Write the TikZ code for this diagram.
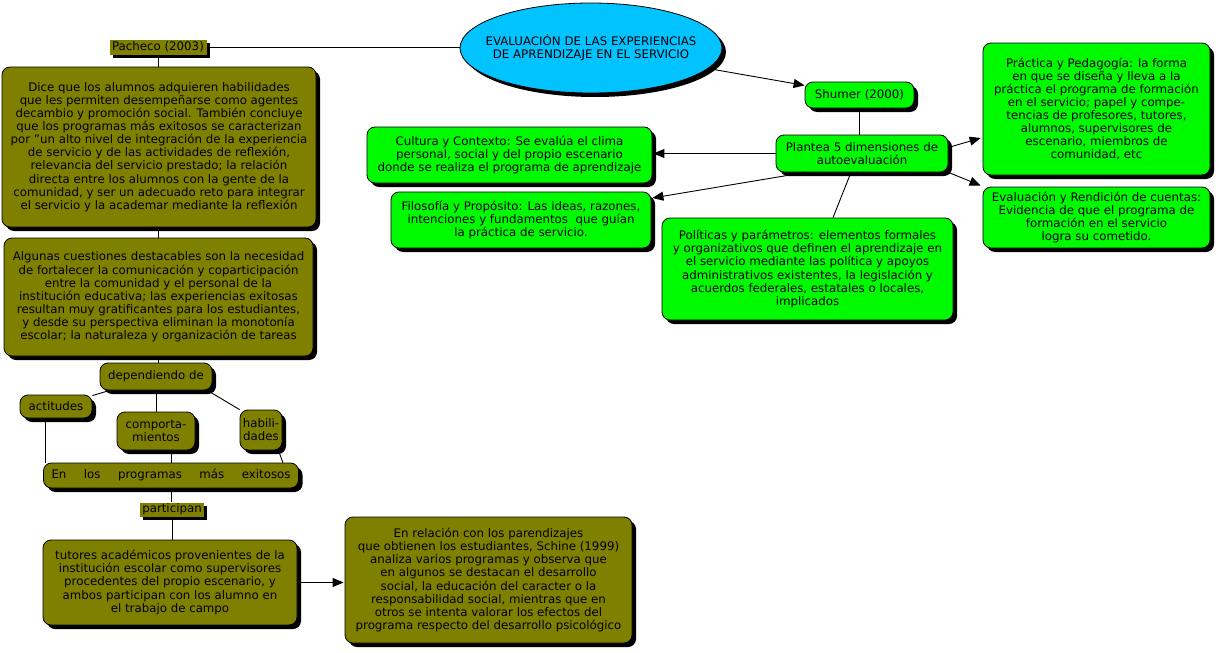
\documentclass[tikz,border=0pt]{standalone}
\usepackage{fontspec}
\setmainfont{DejaVu Sans}
\usetikzlibrary{shapes.geometric,shadows,arrows.meta}
\definecolor{olivebox}{RGB}{128,128,0}
\definecolor{greenbox}{RGB}{0,250,0}
\definecolor{cyanell}{RGB}{0,195,255}
\tikzset{
  txt/.style={font=\fontsize{11.8}{13.1}\selectfont, align=center, text=black, inner sep=0pt},
  shad/.style={drop shadow={shadow xshift=4pt, shadow yshift=-4pt, fill=black, opacity=1}},
  smallshad/.style={drop shadow={shadow xshift=3pt, shadow yshift=-3pt, fill=black, opacity=1}},
  obox/.style={txt, draw=black, line width=0.8pt, fill=olivebox, rounded corners=8pt, shad},
  gbox/.style={txt, draw=black, line width=0.8pt, fill=greenbox, rounded corners=8pt, shad},
  olabel/.style={txt, fill=olivebox, smallshad},
  conn/.style={line width=0.9pt, draw=black},
  arr/.style={conn, -{Triangle[length=11pt,width=9pt]}},
}
\begin{document}
\begin{tikzpicture}[x=1pt,y=-1pt]
\useasboundingbox (0,0) rectangle (1219,653);
\fill[white] (0,0) rectangle (1219,653);

% central ellipse
\node[ellipse, draw=black, line width=0.8pt, fill=cyanell, shad, txt, inner xsep=-13pt, inner ysep=0pt, minimum width=262pt, minimum height=90pt] (ell) at (591,48)
  {EVALUACIÓN DE LAS EXPERIENCIAS\\ DE APRENDIZAJE EN EL SERVICIO};

% left branch
\node[olabel, minimum width=97pt, minimum height=15pt] (pach) at (158,47) {Pacheco (2003)};
\node[obox, minimum width=314pt, minimum height=160pt] (b1) at (159,147)
  {Dice que los alumnos adquieren habilidades\\
   que les permiten desempeñarse como agentes\\
   decambio y promoción social. También concluye\\
   que los programas más exitosos se caracterizan\\
   por "un alto nivel de integración de la experiencia\\
   de servicio y de las actividades de reflexión,\\
   relevancia del servicio prestado; la relación\\
   directa entre los alumnos con la gente de la\\
   comunidad, y ser un adecuado reto para integrar\\
   el servicio y la academar mediante la reflexión};
\node[obox, minimum width=309pt, minimum height=118pt] (b2) at (158.5,297)
  {Algunas cuestiones destacables son la necesidad\\
   de fortalecer la comunicación y coparticipación\\
   entre la comunidad y el personal de la\\
   institución educativa; las experiencias exitosas\\
   resultan muy gratificantes para los estudiantes,\\
   y desde su perspectiva eliminan la monotonía\\
   escolar; la naturaleza y organización de tareas};
\node[obox, minimum width=112pt, minimum height=27pt] (dep) at (156,376.5) {dependiendo de};
\node[obox, minimum width=72pt, minimum height=23pt] (act) at (56,406.5) {actitudes};
\node[obox, minimum width=78pt, minimum height=38pt] (comp) at (156,431) {comporta-\\mientos};
\node[obox, minimum width=42pt, minimum height=40pt] (hab) at (261,430) {habili-\\dades};
\node[obox, minimum width=255pt, minimum height=25pt] (en) at (171,475.5)
  {\makebox[239pt][s]{En los programas más exitosos}};
\node[olabel, minimum width=64pt, minimum height=14pt] (part) at (172,509.5) {participan};
\node[obox, minimum width=254pt, minimum height=85pt] (tut) at (170,582.5)
  {tutores académicos provenientes de la\\
   institución escolar como supervisores\\
   procedentes del propio escenario, y\\
   ambos participan con los alumno en\\
   el trabajo de campo};
\node[obox, minimum width=287pt, minimum height=126pt] (sch) at (488.5,580)
  {En relación con los parendizajes\\
   que obtienen los estudiantes, Schine (1999)\\
   analiza varios programas y observa que\\
   en algunos se destacan el desarrollo\\
   social, la educación del caracter o la\\
   responsabilidad social, mientras que en\\
   otros se intenta valorar los efectos del\\
   programa respecto del desarrollo psicológico};

% right branch
\node[gbox, minimum width=109pt, minimum height=26pt] (shu) at (859.5,95) {Shumer (2000)};
\node[gbox, minimum width=172pt, minimum height=37pt] (pla) at (862,153.5)
  {Plantea 5 dimensiones de\\ autoevaluación};
\node[gbox, minimum width=285pt, minimum height=56pt] (cul) at (509.5,155)
  {Cultura y Contexto: Se evalúa el clima\\
   personal, social y del propio escenario\\
   donde se realiza el programa de aprendizaje};
\node[gbox, minimum width=260pt, minimum height=56pt] (fil) at (521,220)
  {Filosofía y Propósito: Las ideas, razones,\\
   intenciones y fundamentos\ \ que guían\\
   la práctica de servicio.};
\node[gbox, minimum width=291pt, minimum height=102pt] (pol) at (807.5,269)
  {Políticas y parámetros: elementos formales\\
   y organizativos que definen el aprendizaje en\\
   el servicio mediante las política y apoyos\\
   administrativos existentes, la legislación y\\
   acuerdos federales, estatales o locales,\\
   implicados};
\node[gbox, minimum width=227pt, minimum height=132pt] (pra) at (1096.5,109)
  {Práctica y Pedagogía: la forma\\
   en que se diseña y lleva a la\\
   práctica el programa de formación\\
   en el servicio; papel y compe-\\
   tencias de profesores, tutores,\\
   alumnos, supervisores de\\
   escenario, miembros de\\
   comunidad, etc};
\node[gbox, minimum width=227pt, minimum height=61pt] (eva) at (1096.5,217.5)
  {Evaluación y Rendición de cuentas:\\
   Evidencia de que el programa de\\
   formación en el servicio\\
   logra su cometido.};

% connectors left
\draw[conn] (pach.east) -- (ell.west |- pach.east);
\draw[conn] (pach.south) -- (pach.south |- b1.north);
\draw[conn] (b2.north) -- (b2.north |- b1.south);
\draw[conn] (b2.south) -- (b2.south |- dep.north);
\draw[conn] (dep) -- (act);
\draw[conn] (dep.south) -- (dep.south |- comp.north);
\draw[conn] ([xshift=-5pt]dep.south east) -- (hab.north west);
\draw[conn] ([xshift=-11pt]act.south) -- ([xshift=-11pt]act.south |- en.north);
\draw[conn] (en.north) -- (en.north |- comp.south);
\draw[conn] ([xshift=-4pt]hab.south east) -- ([xshift=-16pt]en.north east);
\draw[conn] (en.south) -- (en.south |- part.north);
\draw[conn] (part.south) -- (part.south |- tut.north);
\draw[arr] (tut.east) -- ([xshift=-1pt]sch.west |- tut.east);

% connectors right
\draw[arr] (ell) -- (shu);
\draw[conn] (shu.south) -- (shu.south |- pla.north);
\draw[arr] (pla.west) -- ([xshift=1pt]cul.east |- pla.west);
\draw[arr] ([xshift=30pt]pla.south west) -- ([xshift=1pt,yshift=22pt]fil.east);
\draw[conn] ([xshift=-11pt]pla.south) -- ([xshift=25.5pt]pol.north);
\draw[arr] ([yshift=6pt]pla.east) -- ([xshift=-2pt,yshift=-29pt]pra.west);
\draw[arr] (pla.south east) -- ([xshift=-2pt,yshift=32pt]eva.west);
\end{tikzpicture}
\end{document}
